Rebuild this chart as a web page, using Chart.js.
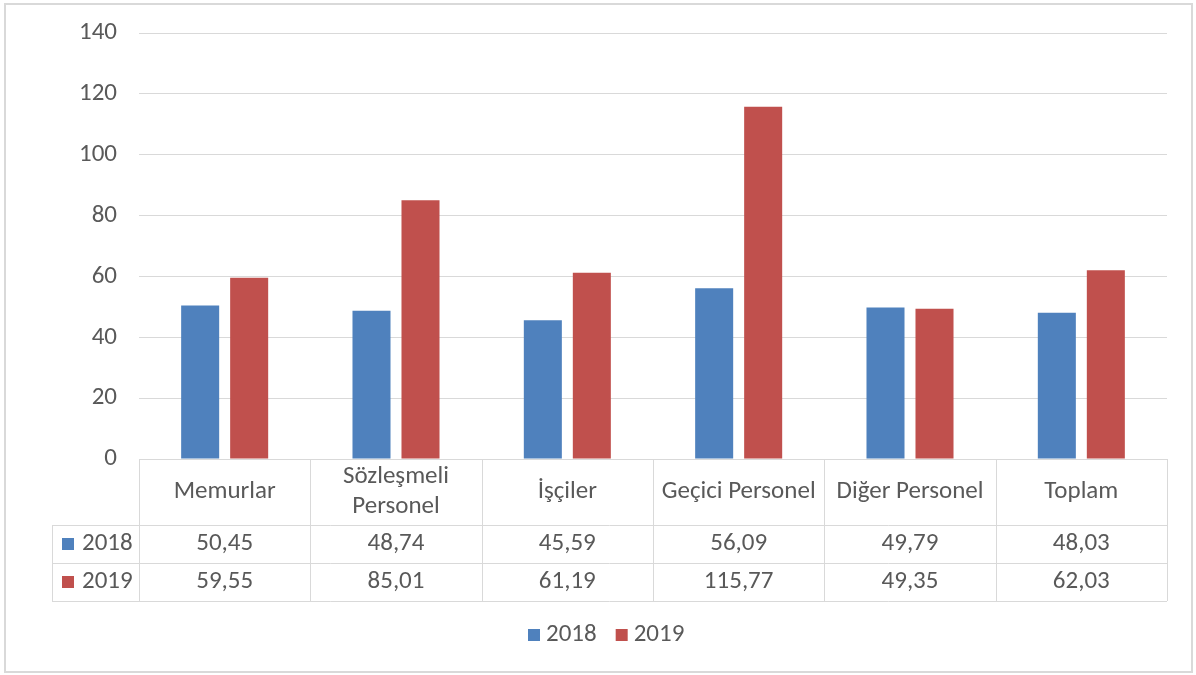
<!DOCTYPE html>
<html>
<head>
<meta charset="utf-8">
<script src="https://cdn.jsdelivr.net/npm/chart.js@4/dist/chart.umd.min.js"></script>
<style>
  html, body { margin: 0; padding: 0; background: #fff; }
  #wrap { width: 1196px; height: 675px; }
</style>
</head>
<body>
<div id="wrap"><canvas id="chart" width="1196" height="675"></canvas></div>
<script>
// categories (x axis) and series
const categories = ['Memurlar', 'Sözleşmeli Personel', 'İşçiler', 'Geçici Personel', 'Diğer Personel', 'Toplam'];
const years = ['2018', '2019'];
const values2018 = [50.45, 48.74, 45.59, 56.09, 49.79, 48.03];
const values2019 = [59.55, 85.01, 61.19, 115.77, 49.35, 62.03];
const yTicks = [0, 20, 40, 60, 80, 100, 120, 140];

const FONT = "'Carlito', 'Liberation Sans', Arial, sans-serif";
const FS = 25;
const TEXT = '#595959';
const LINE = '#d9d9d9';
const colors = ['#4f81bd', '#c0504d'];

// format like Excel (Turkish): comma decimal
function fmt(v) {
    return v.toFixed(2).replace('.', ',');
}

// data table + frame + legend drawn under the plot
const tablePlugin = {
    id: 'dataTable',
    beforeDraw(chart) {
        const ctx = chart.ctx;
        ctx.save();
        ctx.fillStyle = '#fff';
        ctx.fillRect(0, 0, chart.width, chart.height);
        ctx.strokeStyle = LINE;
        ctx.lineWidth = 2;
        ctx.strokeRect(5, 4, chart.width - 9, chart.height - 7);
        ctx.restore();
    },
    afterDraw(chart) {
        const ctx = chart.ctx;
        const area = chart.chartArea;
        const xs = chart.scales.x;
        const n = categories.length;
        const w = (area.right - area.left) / n;
        const top = area.bottom;
        const headH = 66, rowH = 38;
        const r1 = top + headH, r2 = r1 + rowH, r3 = r2 + rowH;
        const leftCol = 52;

        ctx.save();
        ctx.strokeStyle = LINE;
        ctx.lineWidth = 1;
        ctx.beginPath();
        ctx.moveTo(area.left, top + 0.5); ctx.lineTo(area.right, top + 0.5);
        [r1, r2, r3].forEach(y => {
            ctx.moveTo(leftCol, y + 0.5); ctx.lineTo(area.right, y + 0.5);
        });
        ctx.moveTo(leftCol + 0.5, r1); ctx.lineTo(leftCol + 0.5, r3);
        for (let i = 0; i <= n; i++) {
            const x = Math.round(area.left + i * w) + 0.5;
            ctx.moveTo(x, top); ctx.lineTo(x, r3);
        }
        ctx.stroke();

        ctx.fillStyle = TEXT;
        ctx.font = FS + 'px ' + FONT;
        ctx.textAlign = 'center';
        ctx.textBaseline = 'middle';

        // header row: category names, wrap when too wide
        for (let i = 0; i < n; i++) {
            const cx = xs.getPixelForValue(i);
            const label = categories[i];
            let lines = [label];
            if (ctx.measureText(label).width > w - 8) {
                lines = label.split(' ');
            }
            const lh = 30;
            const y0 = top + headH / 2 - (lines.length - 1) * lh / 2;
            lines.forEach((l, k) => ctx.fillText(l, cx, y0 + k * lh));
        }

        // value rows
        const series = [values2018, values2019];
        const rowsY = [r1 + rowH / 2, r2 + rowH / 2];
        series.forEach((vals, s) => {
            for (let i = 0; i < n; i++) {
                ctx.fillText(fmt(vals[i]), xs.getPixelForValue(i), rowsY[s]);
            }
            // row label with colour key
            ctx.fillStyle = colors[s];
            ctx.fillRect(62, rowsY[s] - 6, 12, 12);
            ctx.fillStyle = TEXT;
            ctx.textAlign = 'left';
            ctx.fillText(years[s], 82, rowsY[s]);
            ctx.textAlign = 'center';
        });

        // legend under the table
        const ly = 635;
        let lx = 528;
        ctx.textAlign = 'left';
        years.forEach((yr, s) => {
            ctx.fillStyle = colors[s];
            ctx.fillRect(lx, ly - 6, 12, 12);
            ctx.fillStyle = TEXT;
            ctx.fillText(yr, lx + 18, ly);
            lx += 18 + ctx.measureText(yr).width + 19;
        });
        ctx.restore();
    }
};

const config = {
    type: 'bar',
    data: {
        labels: categories,
        datasets: [
            { label: years[0], data: values2018, backgroundColor: colors[0] },
            { label: years[1], data: values2019, backgroundColor: colors[1] }
        ]
    },
    options: {
        responsive: false,
        animation: false,
        devicePixelRatio: 1,
        categoryPercentage: 0.572,
        barPercentage: 0.776,
        layout: { padding: { top: 33, right: 29, bottom: 216, left: 0 } },
        plugins: {
            legend: { display: false },
            tooltip: { enabled: false }
        },
        scales: {
            x: { display: false },
            y: {
                min: 0,
                max: 140,
                afterFit(scale) {
                    scale.width = 139;
                    scale.paddingTop = 0;
                    scale.paddingBottom = 0;
                },
                afterBuildTicks(scale) { scale.ticks = yTicks.map(v => ({ value: v })); },
                border: { display: false },
                grid: { color: LINE, lineWidth: 1, drawTicks: false },
                ticks: { padding: 22, color: TEXT, font: { family: FONT, size: FS } }
            }
        }
    },
    plugins: [tablePlugin]
};

const chart = new Chart(document.getElementById('chart'), config);
</script>
</body>
</html>
